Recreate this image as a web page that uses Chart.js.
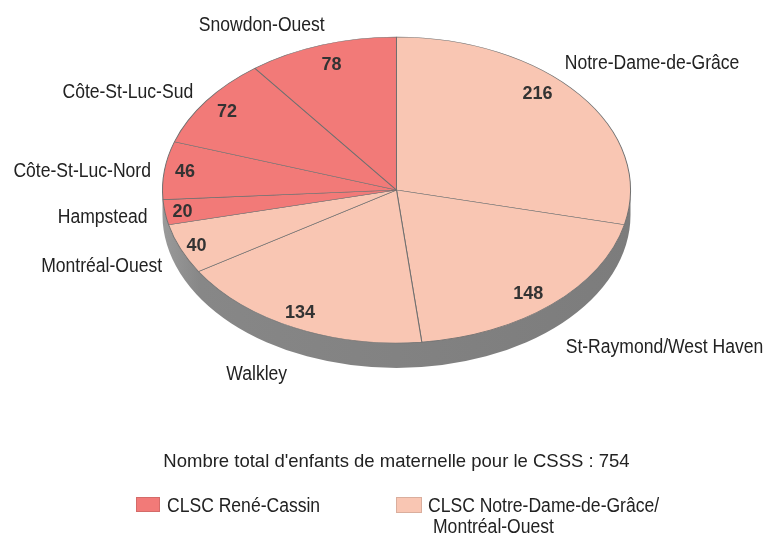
<!DOCTYPE html>
<html lang="fr">
<head>
<meta charset="utf-8">
<title>Enfants de maternelle par territoire</title>
<script src="https://cdn.jsdelivr.net/npm/chart.js@4.4.0/dist/chart.umd.min.js"></script>
<style>
    html, body { margin: 0; padding: 0; background: #ffffff; }
    #wrap { position: relative; width: 765px; height: 537px; }
</style>
</head>
<body>
<div id="wrap"><canvas id="pieChart" width="765" height="537"></canvas></div>
<script>
// ========================================
// DATA
// ========================================

// Slices, clockwise from 12 o'clock
const districtNames = ['Notre-Dame-de-Grâce', 'St-Raymond/West Haven', 'Walkley', 'Montréal-Ouest',
    'Hampstead', 'Côte-St-Luc-Nord', 'Côte-St-Luc-Sud', 'Snowdon-Ouest'];
const kindergartenCounts = [216, 148, 134, 40, 20, 46, 72, 78];
// 0 = CLSC René-Cassin, 1 = CLSC Notre-Dame-de-Grâce/Montréal-Ouest
const districtClsc = [1, 1, 1, 1, 0, 0, 0, 0];
const clscLegendLines = [['CLSC René-Cassin'], ['CLSC Notre-Dame-de-Grâce/', 'Montréal-Ouest']];
const totalCaption = "Nombre total d'enfants de maternelle pour le CSSS : ";

// ========================================
// LAYOUT & STYLE
// ========================================

const PIE = { cx: 396.5, cy: 190, rx: 234, ry: 153, depth: 25 };
const CLSC_COLORS = ['#F27A78', '#F9C6B3'];
const LABEL_FONT = '19.5px "Liberation Sans", Arial, sans-serif';
const NUMBER_FONT = 'bold 18px "Liberation Sans", Arial, sans-serif';
const TITLE_FONT = '18.5px "Liberation Sans", Arial, sans-serif';
const SQUEEZE = 0.9; // condensed look

// value labels: radius factor and angle shift (deg) from slice middle
const numberRadius = [0.876, 0.877, 0.896, 0.926, 0.924, 0.913, 0.89, 0.87];
const numberShift = [-8.1, 1.6, 1.6, 0, 0, 0.5, 0, 0];
// name labels: alignment and offset from the rim point at slice middle
const nameAlign = ['left', 'left', 'center', 'right', 'right', 'right', 'right', 'center'];
const nameOffset = [[-15, -33], [14, 41], [-38, 45], [-18.5, 16], [-17.5, 4], [-13.5, 0], [-13, -10], [-60, -21]];

document.addEventListener('DOMContentLoaded', function() {
    initPieChart();
});

// ========================================
// HELPERS
// ========================================

function drawText(ctx, text, x, y, align, font, color, squeeze) {
    ctx.save();
    ctx.font = font;
    ctx.fillStyle = color;
    ctx.textAlign = 'left';
    ctx.textBaseline = 'alphabetic';
    const w = ctx.measureText(text).width * squeeze;
    const left = align === 'left' ? x : (align === 'right' ? x - w : x - w / 2);
    ctx.translate(left, y);
    ctx.scale(squeeze, 1);
    ctx.fillText(text, 0, 0);
    ctx.restore();
}

// point on the flattened pie top for an arc angle (radians, canvas convention)
function rimPoint(angle, factor) {
    return {
        x: PIE.cx + PIE.rx * factor * Math.cos(angle),
        y: PIE.cy + PIE.ry * factor * Math.sin(angle)
    };
}

function drawPieSide(ctx) {
    const grad = ctx.createLinearGradient(PIE.cx - PIE.rx, 0, PIE.cx + PIE.rx, 0);
    grad.addColorStop(0, '#9a9a9a');
    grad.addColorStop(0.08, '#878787');
    grad.addColorStop(1, '#7c7c7c');

    ctx.save();
    ctx.beginPath();
    ctx.ellipse(PIE.cx, PIE.cy + PIE.depth, PIE.rx, PIE.ry, 0, 0, Math.PI);
    ctx.lineTo(PIE.cx - PIE.rx, PIE.cy);
    ctx.ellipse(PIE.cx, PIE.cy, PIE.rx, PIE.ry, 0, Math.PI, 0, true);
    ctx.closePath();
    ctx.fillStyle = grad;
    ctx.fill();
    ctx.restore();
}

// ========================================
// PLUGINS
// ========================================

// squashes the round pie into an ellipse and gives it a side
const ellipsePiePlugin = {
    id: 'ellipsePie',
    beforeDatasetsDraw(chart) {
        const ctx = chart.ctx;
        const arc = chart.getDatasetMeta(0).data[0];
        drawPieSide(ctx);
        ctx.save();
        ctx.translate(PIE.cx, PIE.cy);
        ctx.scale(PIE.rx / arc.outerRadius, PIE.ry / arc.outerRadius);
        ctx.translate(-arc.x, -arc.y);
    },
    afterDatasetsDraw(chart) {
        chart.ctx.restore();
    }
};

const sliceLabelPlugin = {
    id: 'sliceLabels',
    afterDraw(chart) {
        const ctx = chart.ctx;
        const meta = chart.getDatasetMeta(0);

        meta.data.forEach((arc, i) => {
            const mid = (arc.startAngle + arc.endAngle) / 2;

            const n = rimPoint(mid + numberShift[i] * Math.PI / 180, numberRadius[i]);
            drawText(ctx, String(kindergartenCounts[i]), n.x, n.y + 6.6, 'center', NUMBER_FONT, '#333333', 1);

            const r = rimPoint(mid, 1);
            drawText(ctx, districtNames[i], r.x + nameOffset[i][0], r.y + nameOffset[i][1] + 7,
                nameAlign[i], LABEL_FONT, '#222222', SQUEEZE);
        });

        // caption with total
        const total = kindergartenCounts.reduce((a, b) => a + b, 0);
        drawText(ctx, totalCaption + total, 396.5, 466.5, 'center', TITLE_FONT, '#222222', 1);

        // legend
        const legendItems = [
            { box: [136, 497, 24, 15], x: 167, indent: 0 },
            { box: [396, 497, 26, 16], x: 428, indent: 5 }
        ];
        legendItems.forEach((item, g) => {
            ctx.save();
            ctx.fillStyle = CLSC_COLORS[g];
            ctx.fillRect(item.box[0], item.box[1], item.box[2], item.box[3]);
            ctx.strokeStyle = 'rgba(0,0,0,0.12)';
            ctx.lineWidth = 1;
            ctx.strokeRect(item.box[0] + 0.5, item.box[1] + 0.5, item.box[2] - 1, item.box[3] - 1);
            ctx.restore();
            clscLegendLines[g].forEach((line, k) => {
                drawText(ctx, line, item.x + (k ? item.indent : 0), 511.5 + k * 21.5, 'left',
                    LABEL_FONT, '#222222', SQUEEZE);
            });
        });
    }
};

// ========================================
// CHART INITIALIZATION
// ========================================

function initPieChart() {
    const ctx = document.getElementById('pieChart');
    if (!ctx) return;

    new Chart(ctx, {
        type: 'pie',
        data: {
            labels: districtNames,
            datasets: [{
                data: kindergartenCounts,
                backgroundColor: districtClsc.map(g => CLSC_COLORS[g]),
                borderColor: '#6f6f6f',
                borderWidth: 1
            }]
        },
        options: {
            responsive: false,
            animation: false,
            events: [],
            layout: {
                padding: { left: 162, right: 135, top: 0, bottom: 69 }
            },
            plugins: {
                legend: { display: false },
                tooltip: { enabled: false }
            }
        },
        plugins: [ellipsePiePlugin, sliceLabelPlugin]
    });
}
</script>
</body>
</html>
